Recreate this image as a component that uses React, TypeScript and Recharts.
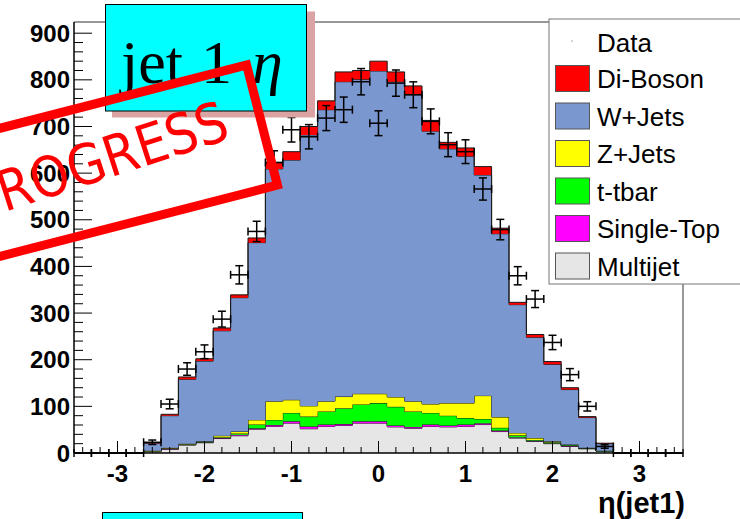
import React from "react";
import { ComposedChart, Area, Scatter, ErrorBar, XAxis, YAxis } from "recharts";

// eta bins are 0.2 wide, from -3.5 to 3.5; values are the bin centres
const etaBins = [
  -3.4, -3.2, -3.0, -2.8, -2.6, -2.4, -2.2, -2.0, -1.8, -1.6, -1.4, -1.2,
  -1.0, -0.8, -0.6, -0.4, -0.2, 0.0, 0.2, 0.4, 0.6, 0.8, 1.0, 1.2, 1.4, 1.6,
  1.8, 2.0, 2.2, 2.4, 2.6, 2.8, 3.0, 3.2, 3.4,
];

// MC samples, stacked in this order (bottom first)
const multijet = [
  0, 0, 0, 0, 3, 8, 17, 22, 31, 37, 51, 57, 64, 52, 57, 59, 64, 64, 56, 53, 57,
  56, 57, 61, 46, 32, 25, 20, 14, 9, 4, 0, 0, 0, 0,
];
const singleTop = [
  0, 0, 0, 0, 0, 1, 1, 1, 1, 2, 2, 3, 4, 5, 4, 3, 4, 4, 3, 3, 4, 3, 4, 3, 2, 2,
  1, 1, 1, 1, 0, 0, 0, 0, 0,
];
const ttbar = [
  0, 0, 0, 0, 1, 1, 1, 1, 2, 3, 8, 11, 18, 21, 28, 34, 36, 39, 40, 33, 25, 21,
  14, 9, 6, 4, 2, 2, 2, 1, 1, 0, 0, 0, 0,
];
const zJets = [
  0, 0, 0, 0, 1, 1, 1, 1, 3, 4, 10, 40, 28, 23, 22, 25, 23, 20, 21, 22, 19, 27,
  32, 50, 23, 5, 4, 2, 1, 0, 0, 0, 0, 0, 0,
];
const wJets = [
  0, 0, 0, 0, 16, 69, 138, 172, 225, 287, 380, 498, 514, 581, 625, 675, 674,
  692, 676, 657, 585, 545, 529, 473, 393, 275, 216, 165, 118, 65, 15, 0, 0, 0, 0,
];
const diBoson = [
  0, 0, 0, 0, 1, 3, 5, 5, 6, 6, 10, 13, 18, 18, 19, 21, 19, 21, 21, 19, 23, 14,
  18, 18, 12, 5, 6, 6, 4, 2, 1, 0, 0, 0, 0,
];
const dataCounts = [
  0, 0, 0, 0, 23, 105, 180, 217, 287, 382, 475, 623, 693, 678, 718, 736, 796,
  707, 793, 768, 711, 661, 646, 566, 479, 380, 330, 237, 168, 100, 14, 0, 0, 0, 0,
];

const xMajorTicks = [-3, -2, -1, 0, 1, 2, 3];
const yMajorTicks = [0, 100, 200, 300, 400, 500, 600, 700, 800, 900];

const samples = [
  { key: "mj", name: "Multijet", color: "#e6e6e6", values: multijet },
  { key: "st", name: "Single-Top", color: "#ff00ff", values: singleTop },
  { key: "tt", name: "t-tbar", color: "#00ff00", values: ttbar },
  { key: "zj", name: "Z+Jets", color: "#ffff00", values: zJets },
  { key: "wj", name: "W+Jets", color: "#7a97cf", values: wJets },
  { key: "db", name: "Di-Boson", color: "#ff0000", values: diBoson },
];

const BIN_HALF = 0.1;

// one row per lower bin edge, plus the closing edge at 3.5 (stepAfter)
const histRows = etaBins.map((c, i) => {
  const row: Record<string, number> = { x: +(c - BIN_HALF).toFixed(2) };
  samples.forEach((s) => (row[s.key] = s.values[i]));
  return row;
});
histRows.push({ ...histRows[histRows.length - 1], x: 3.5 });

const dataPoints = etaBins.map((c, i) => ({
  x: c,
  n: dataCounts[i],
  ey: Math.sqrt(dataCounts[i]),
  ex: BIN_HALF,
}));

// minor ticks every 0.2 in eta, every 20 in events
const xTicks = Array.from({ length: 35 }, (_, i) => +(-3.4 + 0.2 * i).toFixed(1));
const yTicks = Array.from({ length: 46 }, (_, i) => i * 20);

const tickFont = {
  fontFamily: "'Liberation Sans', Arial, Helvetica, sans-serif",
  fontWeight: 700,
  fontSize: 24,
  fill: "#000",
};

function YTick({ x, y, payload }: any) {
  const v = payload.value;
  const major = yMajorTicks.includes(v);
  return (
    <g>
      <line x1={x} x2={x + (major ? 18 : 9)} y1={y} y2={y} stroke="#000" strokeWidth={1} />
      {major && (
        <text x={x - 4} y={y + 8.5} textAnchor="end" {...tickFont}>
          {v}
        </text>
      )}
    </g>
  );
}

function XTick({ x, y, payload }: any) {
  const v = payload.value;
  const major = xMajorTicks.includes(v);
  return (
    <g>
      <line x1={x} x2={x} y1={y} y2={y - (major ? 12 : 6)} stroke="#000" strokeWidth={1} />
      {major && (
        <text x={x} y={y + 29} textAnchor="middle" {...tickFont}>
          {v}
        </text>
      )}
    </g>
  );
}

const legendRows = [
  { name: "Di-Boson", color: "#ff0000" },
  { name: "W+Jets", color: "#7a97cf" },
  { name: "Z+Jets", color: "#ffff00" },
  { name: "t-tbar", color: "#00ff00" },
  { name: "Single-Top", color: "#ff00ff" },
  { name: "Multijet", color: "#e6e6e6" },
];

function Overlay() {
  const legendFont = "'Liberation Sans', Arial, Helvetica, sans-serif";
  return (
    <svg
      width={740}
      height={519}
      style={{ position: "absolute", left: 0, top: 0, pointerEvents: "none" }}
    >
      {/* legend */}
      <rect x={549} y={19} width={200} height={265} fill="#fff" stroke="#777" strokeWidth={1} />
      <circle cx={572} cy={41} r={0.8} fill="#999" />
      <text x={597} y={52} fontFamily={legendFont} fontSize={26} fill="#000">
        Data
      </text>
      {legendRows.map((r, i) => {
        const cy = 78.5 + i * 37.5;
        return (
          <g key={r.name}>
            <rect x={555.5} y={cy - 13} width={34} height={26} fill={r.color} stroke="#555" strokeWidth={1} />
            <text x={597} y={cy + 9.5} fontFamily={legendFont} fontSize={26} fill="#000">
              {r.name}
            </text>
          </g>
        );
      })}

      {/* x-axis title */}
      <text
        x={685}
        y={513}
        textAnchor="end"
        fontFamily={legendFont}
        fontWeight={700}
        fontSize={29}
        fill="#000"
      >
        η(jet1)
      </text>

      {/* title box with shadow */}
      <rect x={112} y={11.5} width={203} height={106} fill="#dba3a3" />
      <rect x={105.5} y={4.5} width={201} height={106.5} fill="#00ffff" stroke="#000" strokeWidth={1} />
      <text x={121} y={83} fontFamily="'Liberation Serif', 'Times New Roman', serif" fontSize={62} fill="#000">
        jet<tspan dx={18}>1</tspan>
        <tspan dx={20} fontStyle="italic">η</tspan>
      </text>

      {/* second title box, mostly off the bottom */}
      <rect x={102.5} y={512.5} width={200} height={20} fill="#00ffff" stroke="#000" strokeWidth={1} />

      {/* work-in-progress stamp */}
      <g transform="translate(262,125) rotate(-14.4)">
        <rect x={-560} y={-62} width={560} height={124} fill="none" stroke="#ff0000" strokeWidth={9} />
      </g>
      <g transform="translate(232,138) rotate(-18) scale(0.88,1)">
        <text
          x={0}
          y={0}
          textAnchor="end"
          fontFamily="'DejaVu Sans', sans-serif"
          fontSize={56}
          fill="#ff0000"
        >
          IN PROGRESS
        </text>
      </g>
    </svg>
  );
}

export default function App() {
  return (
    <div
      style={{
        position: "absolute",
        left: 0,
        top: 0,
        width: 740,
        height: 519,
        background: "#fff",
        overflow: "hidden",
      }}
    >
      <ComposedChart
        width={740}
        height={519}
        data={histRows}
        margin={{ top: 21, right: 56, left: 73, bottom: 65 }}
      >
        {samples.map((s) => (
          <Area
            key={s.key}
            type="stepAfter"
            dataKey={s.key}
            name={s.name}
            stackId="mc"
            fill={s.color}
            fillOpacity={1}
            stroke="#1a1a1a"
            strokeWidth={1}
            dot={false}
            activeDot={false}
            isAnimationActive={false}
          />
        ))}
        <Scatter
          data={dataPoints}
          dataKey="n"
          name="Data"
          shape={() => <g />}
          isAnimationActive={false}
        >
          <ErrorBar dataKey="ey" direction="y" width={4} stroke="#000" strokeWidth={1.5} />
          <ErrorBar dataKey="ex" direction="x" width={4} stroke="#000" strokeWidth={1.5} />
        </Scatter>
        {/* axes after the series so the ROOT-style inner ticks sit on top of the fills */}
        <XAxis
          type="number"
          dataKey="x"
          domain={[-3.5, 3.5]}
          ticks={xTicks}
          interval={0}
          height={1}
          tickSize={0}
          tickMargin={0}
          tickLine={false}
          axisLine={{ stroke: "#000", strokeWidth: 1.5 }}
          tick={<XTick />}
        />
        <XAxis
          xAxisId="frame"
          orientation="top"
          type="number"
          domain={[-3.5, 3.5]}
          height={1}
          tick={false}
          tickLine={false}
          axisLine={{ stroke: "#333", strokeWidth: 1 }}
        />
        <YAxis
          type="number"
          domain={[0, 924]}
          ticks={yTicks}
          interval={0}
          width={1}
          tickSize={0}
          tickMargin={0}
          tickLine={false}
          axisLine={{ stroke: "#000", strokeWidth: 1.5 }}
          tick={<YTick />}
        />
        <YAxis
          yAxisId="frame"
          orientation="right"
          type="number"
          domain={[0, 924]}
          width={1}
          tick={false}
          tickLine={false}
          axisLine={{ stroke: "#333", strokeWidth: 1 }}
        />
      </ComposedChart>
      <Overlay />
    </div>
  );
}
